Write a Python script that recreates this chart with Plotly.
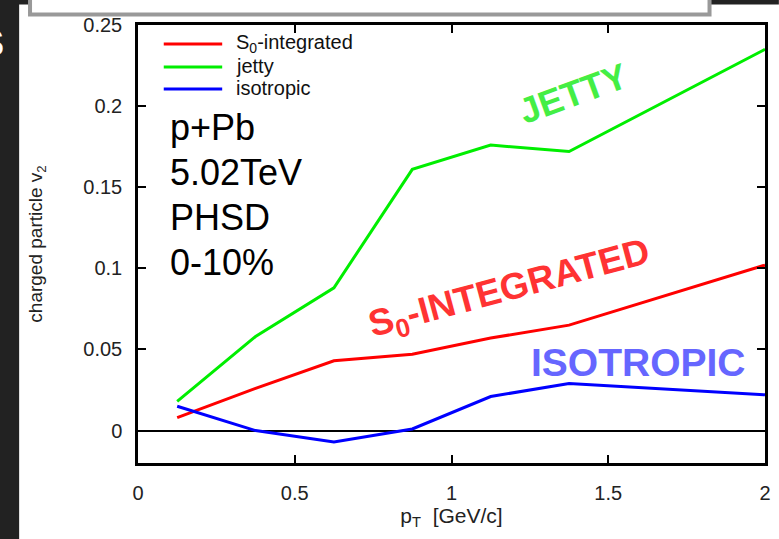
import plotly.graph_objects as go

# transverse momentum bins (GeV/c)
pt = [0.125, 0.375, 0.625, 0.875, 1.125, 1.375, 2.0]

# charged particle v2 for each event class
v2_integrated = [0.008, 0.026, 0.043, 0.047, 0.057, 0.065, 0.102]
v2_jetty = [0.018, 0.058, 0.088, 0.161, 0.176, 0.172, 0.235]
v2_isotropic = [0.015, 0.000, -0.007, 0.001, 0.021, 0.029, 0.022]

series_names = ["S<sub>0</sub>-integrated", "jetty", "isotropic"]
series_colors = ["#ff0000", "#00ee00", "#0000ff"]

x_ticks = [0, 0.5, 1, 1.5, 2]
x_tick_text = ["0", "0.5", "1", "1.5", "2"]
y_ticks = [0, 0.05, 0.1, 0.15, 0.2, 0.25]
y_tick_text = ["0", "0.05", "0.1", "0.15", "0.2", "0.25"]

W, H = 779, 539
ML, MR, MT, MB = 138, 8, 25, 76
PW, PH = W - ML - MR, H - MT - MB


def px(x):
    return (x - ML) / PW


def py(y):
    return (H - MB - y) / PH


FONT = "Liberation Sans, Arial, sans-serif"

fig = go.Figure()
for vals, name, col in zip([v2_integrated, v2_jetty, v2_isotropic], series_names, series_colors):
    fig.add_trace(go.Scatter(x=pt, y=vals, mode="lines", name=name,
                             line=dict(color=col, width=3), showlegend=False))

shapes = [
    # dark slide border on the left and top
    dict(type="rect", xref="paper", yref="paper", x0=px(-5), x1=px(18), y0=py(545), y1=py(-5),
         fillcolor="#222222", line=dict(width=0), layer="below"),
    dict(type="rect", xref="paper", yref="paper", x0=px(-5), x1=px(785), y0=py(4.5), y1=py(-5),
         fillcolor="#222222", line=dict(width=0), layer="below"),
    # grey framed box at the top
    dict(type="rect", xref="paper", yref="paper", x0=px(29), x1=px(715), y0=py(14.5), y1=py(-10),
         fillcolor="white", line=dict(color="#999999", width=4), layer="below"),
]

# legend drawn inside the frame
legend_y = [43, 66, 88]
annotations = []
for yy, name, col in zip(legend_y, series_names, series_colors):
    shapes.append(dict(type="line", xref="paper", yref="paper", x0=px(164), x1=px(223),
                       y0=py(yy + 1), y1=py(yy + 1), line=dict(color=col, width=3)))
    annotations.append(dict(xref="paper", yref="paper", x=px(235), y=py(yy), text=name,
                            showarrow=False, xanchor="left", yanchor="middle",
                            font=dict(family=FONT, size=20, color="#111111")))

# system label
for yy, txt in zip([127, 172, 217, 262], ["p+Pb", "5.02TeV", "PHSD", "0-10%"]):
    annotations.append(dict(xref="paper", yref="paper", x=px(168), y=py(yy), text=txt,
                            showarrow=False, xanchor="left", yanchor="middle",
                            font=dict(family=FONT, size=36, color="#000000")))

# class labels
annotations += [
    dict(xref="paper", yref="paper", x=px(577), y=py(93), text="<b>JETTY</b>", textangle=-20,
         xanchor="center", yanchor="middle",
         showarrow=False, font=dict(family=FONT, size=36, color="#44ee44")),
    dict(xref="paper", yref="paper", x=px(513), y=py(290), text="<b>S<sub>0</sub>-INTEGRATED</b>",
         xanchor="center", yanchor="middle",
         textangle=-15, showarrow=False, font=dict(family=FONT, size=37, color="#ff3333")),
    dict(xref="paper", yref="paper", x=px(643), y=py(362), text="<b>ISOTROPIC</b>",
         xanchor="center", yanchor="middle",
         showarrow=False, font=dict(family=FONT, size=39, color="#6666ff")),
    # edge of the slide lettering on the left
    dict(xref="paper", yref="paper", x=px(5), y=py(43), text="<b>S</b>", showarrow=False,
         xanchor="right", yanchor="middle", font=dict(family=FONT, size=36, color="white")),
]

axis_common = dict(showline=True, linecolor="black", linewidth=2.5, mirror="ticks",
                   ticks="inside", ticklen=8, tickwidth=2, tickcolor="black",
                   showgrid=False, tickfont=dict(family=FONT, size=20, color="#222222"))

fig.update_layout(
    width=W, height=H,
    margin=dict(l=ML, r=MR, t=MT, b=MB, pad=0),
    paper_bgcolor="white", plot_bgcolor="white",
    shapes=shapes, annotations=annotations,
    xaxis=dict(range=[0, 2], tickvals=x_ticks, ticktext=x_tick_text, zeroline=False,
               ticklabelstandoff=10,
               title=dict(text="p<sub>T</sub>&nbsp;&nbsp;[GeV/c]", standoff=6,
                          font=dict(family=FONT, size=21, color="#222222")),
               **axis_common),
    yaxis=dict(range=[-0.02, 0.25], tickvals=y_ticks, ticktext=y_tick_text,
               zeroline=True, zerolinecolor="black", zerolinewidth=1.5,
               ticklabelstandoff=9,
               title=dict(text="charged particle v<sub>2</sub>", standoff=36,
                          font=dict(family=FONT, size=19, color="#222222")),
               **axis_common),
)

fig.write_html("out.html")
